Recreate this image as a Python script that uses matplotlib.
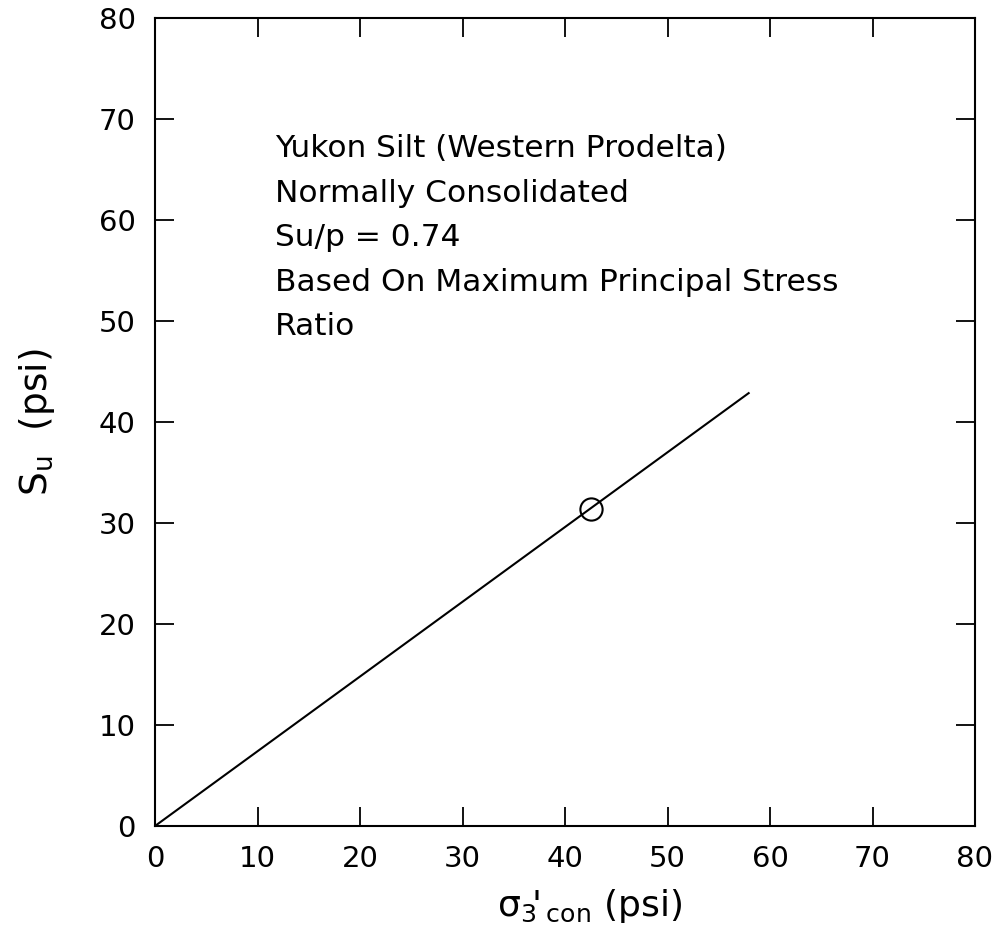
import matplotlib
matplotlib.use("Agg")
import matplotlib.pyplot as plt
import numpy as np

# Strength ratio and fitted line extent
su_ratio = 0.74
line_x = [0.0, 58.0]

# Measured point: confining stress and undrained strength (psi)
sigma3_con = [42.5]
su_measured = [31.4]

ticks = [0, 10, 20, 30, 40, 50, 60, 70, 80]
notes = [
    "Yukon Silt (Western Prodelta)",
    "Normally Consolidated",
    "Su/p = 0.74",
    "Based On Maximum Principal Stress",
    "Ratio",
]

plt.rcParams["font.family"] = ["DejaVu Sans"]

fig = plt.figure(figsize=(10.01, 9.44), dpi=100)
ax = fig.add_axes([155 / 1001, 1 - 826 / 944, 820 / 1001, 808 / 944])

line_y = [su_ratio * v for v in line_x]
ax.plot(line_x, line_y, color="black", lw=1.5, solid_capstyle="butt")
ax.plot(sigma3_con, su_measured, linestyle="none", marker="o", ms=16,
        mfc="none", mec="black", mew=1.5)

ax.set_xlim(0, 80)
ax.set_ylim(0, 80)
ax.set_xticks(ticks)
ax.set_yticks(ticks)
ax.set_xticklabels([str(t) for t in ticks])
ax.set_yticklabels([str(t) for t in ticks])
ax.tick_params(direction="in", length=14, width=1.3, top=True, right=True,
               labelsize=21, pad=14, colors="black")
for s in ax.spines.values():
    s.set_linewidth(1.5)

for i, t in enumerate(notes):
    ax.text(11.7, 66.2 - i * 4.4, t, fontsize=22.5, va="baseline", ha="left")

ax.set_xlabel(r"$\mathregular{\sigma_{3}\!'_{\,con}}$ (psi)", fontsize=26,
              labelpad=14)
ax.xaxis.set_label_coords(0.53, -0.075)
ax.set_ylabel(r"$\mathregular{S_u}$  (psi)", fontsize=27, labelpad=30)

fig.savefig("out.png", dpi=100)
